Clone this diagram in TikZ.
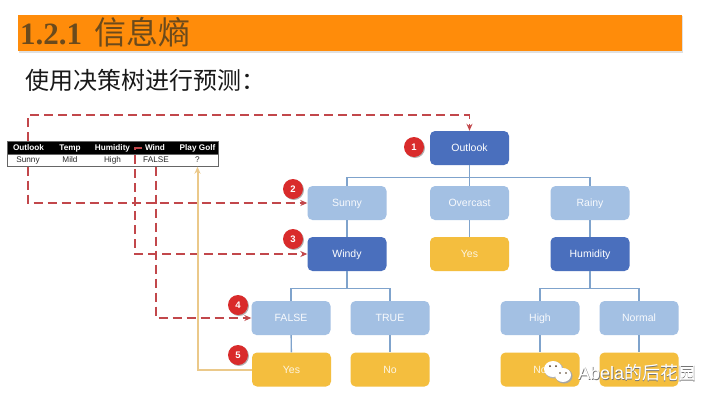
\documentclass[tikz,border=0pt]{standalone}
\usepackage{fontspec}
\setmainfont{Liberation Sans}
\newfontfamily\cjk{Noto Sans CJK SC}
\newfontfamily\serifbold[BoldFont={Liberation Serif Bold}]{Liberation Serif}
\usetikzlibrary{arrows.meta,shadows,calc}
\definecolor{bardark}{HTML}{FF8C0A}
\definecolor{titleink}{HTML}{6B4A1C}
\definecolor{nodedark}{HTML}{4A6FBD}
\definecolor{nodelight}{HTML}{A3C0E3}
\definecolor{nodegold}{HTML}{F4BE3E}
\definecolor{linkblue}{HTML}{7FA3CC}
\definecolor{dashred}{HTML}{C2474B}
\definecolor{badgered}{HTML}{D92B2B}
\definecolor{pathgold}{HTML}{EBC98A}
\tikzset{
  tree/.style={rounded corners=5pt,minimum width=79pt,minimum height=34pt,inner sep=0pt,text height=7.6pt,text depth=0pt,text=white,font=\fontsize{10.5}{12}\selectfont},
  dark/.style={tree,fill=nodedark},
  light/.style={tree,fill=nodelight,text=white!92!nodelight},
  gold/.style={tree,fill=nodegold,text=white!85!nodegold},
  link/.style={draw=linkblue,line width=1.4pt},
  route/.style={draw=dashred,line width=1.5pt,dash pattern=on 9pt off 5pt,-{Stealth[length=7pt,width=6pt]}},
  badge/.style={circle,fill=badgered,minimum size=20pt,inner sep=0pt,text=white,font=\bfseries\fontsize{9.5}{11}\selectfont,drop shadow={shadow xshift=1pt,shadow yshift=-1pt,opacity=.3,fill=black}},
  headcell/.style={minimum height=13pt,inner sep=0pt,text height=6pt,text depth=1.6pt,text=white,font=\bfseries\fontsize{8.2}{9}\selectfont},
  rowcell/.style={minimum height=12pt,inner sep=0pt,text height=6pt,text depth=1.6pt,text=black!85,font=\fontsize{8.2}{9}\selectfont},
}
\begin{document}
\begin{tikzpicture}[x=1pt,y=-1pt]
\useasboundingbox (0,0) rectangle (720,405);
\fill[white] (0,0) rectangle (720,405);
% title
\fill[black!12] (19,16) rectangle (683,53);
\node[fill=bardark,minimum width=664pt,minimum height=36pt,inner sep=0pt,anchor=north west] (bar) at (18,15) {};
\node[anchor=west,inner sep=0pt,text=titleink,font=\serifbold\bfseries\fontsize{31}{32}\selectfont] (t1) at (20,34) {1.2.1};
\node[anchor=west,inner sep=0pt,text=titleink,font=\cjk\fontsize{32}{34}\selectfont] (t2) at (94,32) {信息熵};
\node[anchor=west,inner sep=0pt,text=black!90,font=\cjk\fontsize{24}{28}\selectfont] (sub) at (25,80) {使用决策树进行预测：};
% table
\node[fill=black,draw=black!60,minimum width=211pt,minimum height=13pt,inner sep=0pt,anchor=north west] (thead) at (7,141) {};
\node[fill=white,draw=black!60,minimum width=211pt,minimum height=12pt,inner sep=0pt,anchor=north west] (tbody) at (7,154) {};
\node[headcell] (hOutlook) at (28.5,148) {Outlook};
\node[headcell] (hTemp) at (70,148) {Temp};
\node[headcell] (hHumidity) at (112.5,148) {Humidity};
\node[headcell] (hWind) at (155,148) {Wind};
\node[headcell] (hGolf) at (197.5,148) {Play Golf};
\node[rowcell] (vOutlook) at (28,160.5) {Sunny};
\node[rowcell] (vTemp) at (70,160.5) {Mild};
\node[rowcell] (vHumidity) at (112.5,160.5) {High};
\node[rowcell] (vWind) at (156,160.5) {FALSE};
\node[rowcell] (vGolf) at (197.5,160.5) {?};
% tree nodes
\node[dark] (outlook) at (469.5,148) {Outlook};
\node[light] (sunny) at (347,203) {Sunny};
\node[light] (overcast) at (469.5,203) {Overcast};
\node[light] (rainy) at (590,203) {Rainy};
\node[dark] (windy) at (347,254) {Windy};
\node[gold] (yes0) at (469.5,254) {Yes};
\node[dark] (humidity) at (590,254) {Humidity};
\node[light] (false) at (291,318) {FALSE};
\node[light] (true) at (390,318) {TRUE};
\node[light] (high) at (540,318) {High};
\node[light] (normal) at (639,318) {Normal};
\node[gold] (yes1) at (291.5,369.5) {Yes};
\node[gold] (no1) at (390,369.5) {No};
\node[gold] (no2) at (540,369.5) {No};
\node[gold] (leaf) at (639,369.5) {};
% tree links
\draw[link] (outlook.south) -- (overcast.north);
\draw[link] (outlook.south) -- ++(0,12) -| (sunny.north);
\draw[link] (outlook.south) -- ++(0,12) -| (rainy.north);
\draw[link] (sunny) -- (windy);
\draw[link] (overcast) -- (yes0);
\draw[link] (rainy) -- (humidity);
\draw[link] (windy.south) -- ++(0,17) -| (false.north);
\draw[link] (windy.south) -- ++(0,17) -| (true.north);
\draw[link] (humidity.south) -- ++(0,17) -| (high.north);
\draw[link] (humidity.south) -- ++(0,17) -| (normal.north);
\draw[link] (false) -- (yes1);
\draw[link] (true) -- (no1);
\draw[link] (high) -- (no2);
\draw[link] (normal) -- (leaf);
% routes
\coordinate (outTop) at (28,141);
\coordinate (humStub) at (142,148);
\draw[route] (outTop) -- (28,115) -| (outlook.north);
\draw[route] (vOutlook.south) -- (28,203) -- (sunny.west);
\draw[route] (humStub) -- (135,148) -- (135,254) -- (windy.west);
\draw[route] (vWind.south) -- (156,318) -- (false.west);
\draw[draw=pathgold,line width=2pt,-{Stealth[length=7pt,width=6pt]}] (yes1.west) -| (vGolf.south);
% badges
\node[badge] (b1) at (414,147) {1};
\node[badge] (b2) at (293,189) {2};
\node[badge] (b3) at (293,239) {3};
\node[badge] (b4) at (238,305) {4};
\node[badge] (b5) at (238,355) {5};
% watermark
\fill[black!30] (554,370) ellipse (9.5pt and 8.5pt);
\fill[white] (553,369) ellipse (9pt and 8pt);
\fill[black!35] (564,376) ellipse (8.5pt and 7.5pt);
\fill[white] (563,375) ellipse (8pt and 7pt);
\fill[black!60!brown] (550,366) circle (1pt) (556,366) circle (1pt) (560,373) circle (.9pt) (566,373) circle (.9pt);
\node[anchor=west,inner sep=0pt,text=black!55,font=\fontsize{18}{20}\selectfont] (mark0) at (578.7,373.7) {Abela{\cjk 的后花园}};
\node[anchor=west,inner sep=0pt,text=white,font=\fontsize{18}{20}\selectfont] (mark) at (578,373) {Abela{\cjk 的后花园}};
\end{tikzpicture}
\end{document}
